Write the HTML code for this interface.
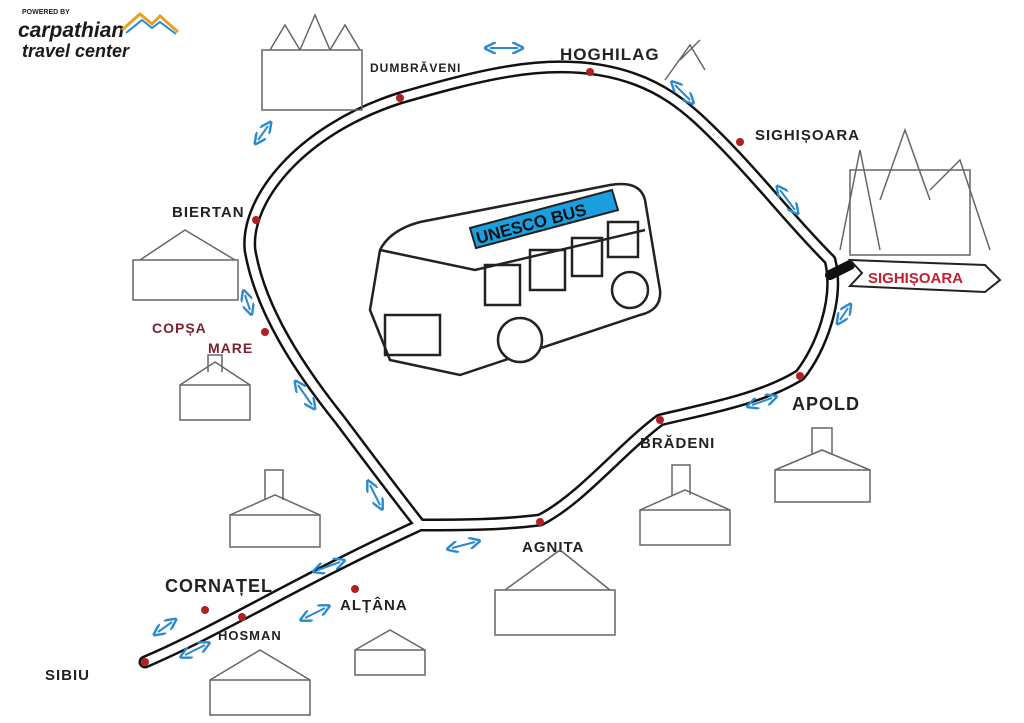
<!DOCTYPE html>
<html><head><meta charset="utf-8"><style>
html,body{margin:0;padding:0;background:#fff;width:1024px;height:723px;overflow:hidden}
svg text{font-family:"Liberation Sans",sans-serif}
</style></head><body>
<svg width="1024" height="723" viewBox="0 0 1024 723" xmlns="http://www.w3.org/2000/svg">
<defs>
<marker id="a" markerWidth="6" markerHeight="6" refX="3" refY="3" orient="auto-start-reverse"><path d="M0 0 L6 3 L0 6" fill="none" stroke="#2a8ad0" stroke-width="1.2"/></marker>
</defs>
<rect width="1024" height="723" fill="#fff"/>
<text x="22" y="14" font-size="7" font-weight="bold" fill="#222">POWERED BY</text>
<text x="18" y="37" font-size="21" font-style="italic" font-weight="bold" fill="#1a1a1a">carpathian</text>
<text x="22" y="57" font-size="18" font-style="italic" font-weight="bold" fill="#1a1a1a">travel center</text>
<path d="M122 30 L140 14 L152 24 L160 16 L178 32" fill="none" stroke="#e8a020" stroke-width="3"/>
<path d="M126 33 L142 20 L152 28 L160 22 L176 34" fill="none" stroke="#2a8ad0" stroke-width="2"/>
<g fill="none" stroke-linejoin="round" stroke-linecap="round">
<path d="M145 662 C220 630 300 580 420 525 C400 500 370 460 340 420 C300 370 260 310 250 250 C245 200 300 130 400 98 C480 75 540 60 600 70 C660 80 690 110 720 140 C760 180 790 220 830 260 C840 300 820 350 800 375 C760 400 700 410 660 420 C620 450 580 500 540 520 C500 525 460 525 420 525" stroke="#111" stroke-width="13"/>
<path d="M145 662 C220 630 300 580 420 525 C400 500 370 460 340 420 C300 370 260 310 250 250 C245 200 300 130 400 98 C480 75 540 60 600 70 C660 80 690 110 720 140 C760 180 790 220 830 260 C840 300 820 350 800 375 C760 400 700 410 660 420 C620 450 580 500 540 520 C500 525 460 525 420 525" stroke="#fff" stroke-width="8"/>
<path d="M830 275 L850 265" stroke="#111" stroke-width="10"/>
</g>
<g fill="#b02020">
<circle cx="145" cy="662" r="4"/><circle cx="205" cy="610" r="4"/><circle cx="242" cy="617" r="4"/>
<circle cx="355" cy="589" r="4"/><circle cx="540" cy="522" r="4"/><circle cx="660" cy="420" r="4"/>
<circle cx="800" cy="376" r="4"/><circle cx="740" cy="142" r="4"/><circle cx="590" cy="72" r="4"/>
<circle cx="400" cy="98" r="4"/><circle cx="256" cy="220" r="4"/><circle cx="265" cy="332" r="4"/>
</g>
<g stroke="#2a8ad0" stroke-width="2" fill="none" marker-start="url(#a)" marker-end="url(#a)">
<path d="M158 632 L172 622"/><path d="M185 655 L205 645"/><path d="M305 618 L325 608"/><path d="M318 570 L340 562"/>
<path d="M452 548 L475 542"/><path d="M370 485 L380 505"/><path d="M298 385 L312 405"/><path d="M245 295 L250 310"/>
<path d="M258 140 L268 126"/><path d="M490 48 L518 48"/><path d="M675 85 L690 100"/><path d="M780 190 L795 210"/>
<path d="M840 320 L848 308"/><path d="M752 405 L772 398"/>
</g>
<g font-size="15" fill="#222" font-weight="bold" letter-spacing="1">
<text x="45" y="680">SIBIU</text>
<text x="165" y="592" font-size="18">CORNAȚEL</text>
<text x="218" y="640" font-size="13">HOSMAN</text>
<text x="340" y="610">ALȚÂNA</text>
<text x="522" y="552">AGNITA</text>
<text x="640" y="448">BRĂDENI</text>
<text x="792" y="410" font-size="18">APOLD</text>
<text x="755" y="140">SIGHIȘOARA</text>
<text x="560" y="60" font-size="17">HOGHILAG</text>
<text x="370" y="72" font-size="12">DUMBRĂVENI</text>
<text x="172" y="217">BIERTAN</text>
<text x="152" y="333" fill="#7a2030" font-size="14">COPȘA</text>
<text x="208" y="353" fill="#7a2030" font-size="14">MARE</text>
</g>
<path d="M850 260 L985 265 L1000 280 L985 292 L850 286 L862 273 Z" fill="#fff" stroke="#222" stroke-width="2"/>
<text x="868" y="283" font-size="15" font-weight="bold" fill="#c02030">SIGHIȘOARA</text>
<g fill="none" stroke="#666" stroke-width="1.5">
<rect x="262" y="50" width="100" height="60"/><path d="M270 50 L285 25 L300 50 M300 50 L315 15 L330 50 M330 50 L345 25 L360 50"/>
<rect x="850" y="170" width="120" height="85"/><path d="M840 250 L860 150 L880 250 M880 200 L905 130 L930 200 M930 190 L960 160 L990 250"/>
<rect x="133" y="260" width="105" height="40"/><path d="M140 260 L185 230 L235 260"/>
<rect x="180" y="385" width="70" height="35"/><path d="M180 385 L215 362 L250 385 M208 372 L208 355 L222 355 L222 372"/>
<rect x="230" y="515" width="90" height="32"/><path d="M230 515 L275 495 L320 515 M265 500 L265 470 L283 470 L283 500"/>
<rect x="495" y="590" width="120" height="45"/><path d="M505 590 L560 550 L610 590"/>
<rect x="640" y="510" width="90" height="35"/><path d="M640 510 L685 490 L730 510 M672 495 L672 465 L690 465 L690 495"/>
<rect x="775" y="470" width="95" height="32"/><path d="M775 470 L822 450 L870 470 M812 455 L812 428 L832 428 L832 455"/>
<rect x="355" y="650" width="70" height="25"/><path d="M355 650 L390 630 L425 650"/>
<rect x="210" y="680" width="100" height="35"/><path d="M210 680 L260 650 L310 680"/>
<path d="M665 80 L690 45 L705 70 M680 60 L700 40"/>
</g>
<g stroke="#222" stroke-width="2.5" fill="#fff">
<path d="M370 310 L380 250 Q390 230 420 222 L610 185 Q640 180 645 200 L660 290 Q662 310 640 315 L460 375 L390 360 Z"/>
<path d="M380 250 L475 270 L645 230" fill="none"/>
<rect x="385" y="315" width="55" height="40" fill="none"/>
<circle cx="520" cy="340" r="22"/><circle cx="630" cy="290" r="18"/>
<rect x="485" y="265" width="35" height="40" fill="none"/><rect x="530" y="250" width="35" height="40" fill="none"/>
<rect x="572" y="238" width="30" height="38" fill="none"/><rect x="608" y="222" width="30" height="35" fill="none"/>
</g>
<path d="M470 228 L612 190 L618 210 L476 248 Z" fill="#1aa0e0" stroke="#222" stroke-width="2"/>
<text x="478" y="244" font-size="17" font-weight="bold" fill="#111" transform="rotate(-15 478 244)">UNESCO BUS</text>
</svg>
</body></html>
